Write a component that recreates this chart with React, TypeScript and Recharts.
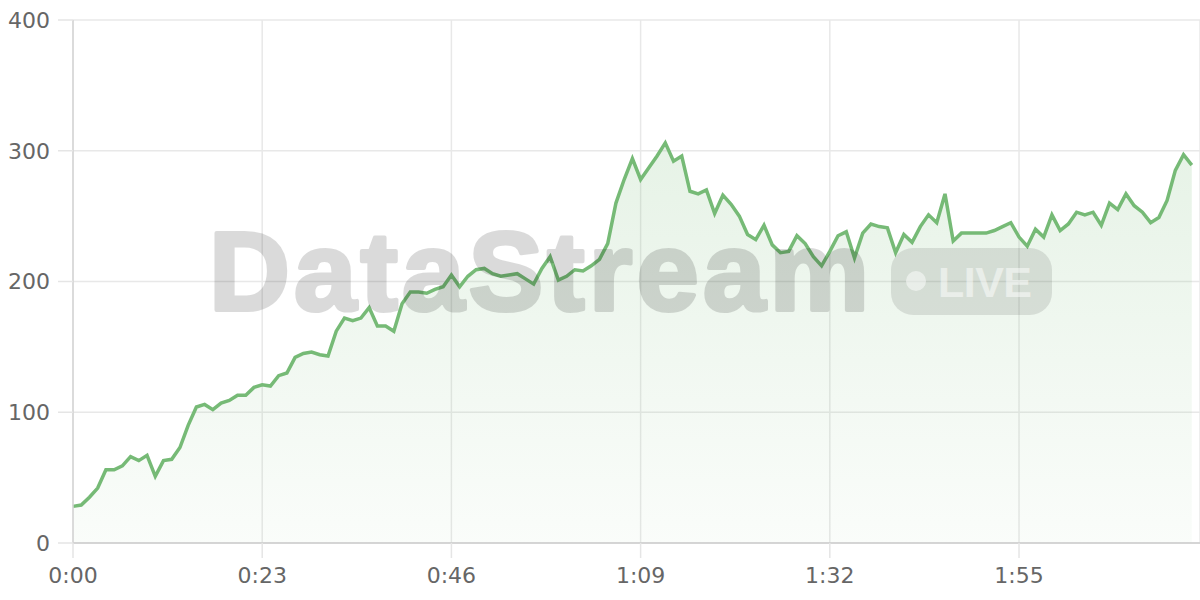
import React from 'react';
import { AreaChart, Area, XAxis, YAxis, CartesianGrid } from 'recharts';

// one reading per second, 0:00 .. 2:16
const values = [
  28, 29, 35, 42, 56, 56, 59, 66, 63, 67, 51, 63, 64, 73, 90, 104, 106, 102, 107, 109,
  113, 113, 119, 121, 120, 128, 130, 142, 145, 146, 144, 143, 162, 172, 170, 172, 180, 166, 166, 162,
  183, 192, 192, 191, 194, 196, 205, 196, 204, 209, 210, 206, 204, 205, 206, 202, 198, 210, 219, 201,
  204, 209, 208, 212, 217, 229, 260, 278, 294, 278, 287, 296, 306, 292, 296, 269, 267, 270, 252, 266,
  259, 250, 236, 232, 243, 228, 222, 223, 235, 229, 219, 212, 223, 235, 238, 218, 237, 244, 242, 241,
  222, 236, 230, 242, 251, 245, 267, 231, 237, 237, 237, 237, 239, 242, 245, 234, 227, 240, 234, 251,
  239, 244, 253, 251, 253, 243, 260, 255, 267, 258, 253, 245, 249, 262, 285, 297, 289,
];

const xTicks = [0, 23, 46, 69, 92, 115];
const yTicks = [0, 100, 200, 300, 400];

const data = values.map((v, i) => ({ t: i, value: v }));

const fmtTime = (s: number) => `${Math.floor(s / 60)}:${String(s % 60).padStart(2, '0')}`;

const GREEN = '#76ba76';
const tickStyle = { fill: '#666', fontSize: 22, fontFamily: 'DejaVu Sans' };

const App = () => {
  return (
    <div style={{ position: 'absolute', left: 0, top: 0, width: 1200, height: 600, background: '#fff' }}>
      <AreaChart width={1200} height={600} data={data} margin={{ top: 20, right: 0, bottom: 0, left: 0 }}>
        <defs>
          <linearGradient id="fillGreen" x1="0" y1="0" x2="0" y2="1">
            <stop offset="0%" stopColor={GREEN} stopOpacity={0.3} />
            <stop offset="100%" stopColor={GREEN} stopOpacity={0.06} />
          </linearGradient>
        </defs>
        <CartesianGrid stroke="#e8e8e8" strokeWidth={1.5} />
        <XAxis
          dataKey="t"
          type="number"
          domain={[0, 137]}
          ticks={xTicks}
          tickFormatter={fmtTime}
          height={57}
          tickSize={15}
          tickMargin={9}
          tick={tickStyle}
          tickLine={{ stroke: '#e5e5e5', strokeWidth: 1.5 }}
          axisLine={{ stroke: '#cccccc', strokeWidth: 1.5 }}
        />
        <YAxis
          type="number"
          domain={[0, 400]}
          ticks={yTicks}
          width={73}
          tickSize={15}
          tickMargin={8}
          tick={tickStyle}
          tickLine={{ stroke: '#e5e5e5', strokeWidth: 1.5 }}
          axisLine={{ stroke: '#d4d4d4', strokeWidth: 1.5 }}
        />
        <Area
          type="linear"
          dataKey="value"
          stroke={GREEN}
          strokeWidth={3.5}
          fill="url(#fillGreen)"
          isAnimationActive={false}
          dot={false}
          activeDot={false}
        />
      </AreaChart>
      <svg
        width={1200}
        height={600}
        style={{ position: 'absolute', left: 0, top: 0, pointerEvents: 'none' }}
      >
        {/* watermark, drawn as one layer so stroke and fill don't double up */}
        <g opacity={0.14}>
          <text
            x={209}
            y={310}
            fontFamily="Liberation Sans"
            fontWeight="bold"
            fontSize={112}
            textLength={660}
            lengthAdjust="spacing"
            fill="#000"
            stroke="#000"
            strokeWidth={4}
            strokeLinejoin="round"
          >
            DataStream
          </text>
        </g>
        <rect x={891} y={248} width={161} height={67} rx={22} fill="rgba(0,0,0,0.1)" />
        <g opacity={0.5}>
          <circle cx={916} cy={281} r={10} fill="#fff" />
          <text
            x={938}
            y={297}
            fontFamily="Liberation Sans"
            fontWeight="bold"
            fontSize={43}
            textLength={94}
            lengthAdjust="spacing"
            fill="#fff"
          >
            LIVE
          </text>
        </g>
      </svg>
    </div>
  );
};

export default App;
